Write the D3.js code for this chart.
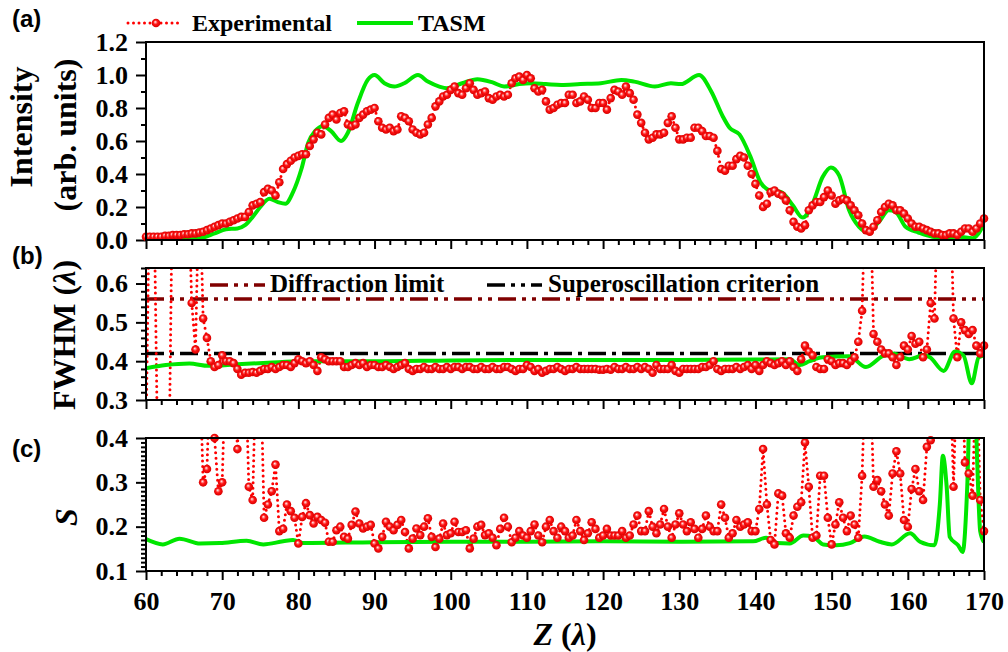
<!DOCTYPE html>
<html>
<head>
<meta charset="utf-8">
<script src="https://cdn.jsdelivr.net/npm/d3@7"></script>
<style>
  body { margin: 0; background: #fff; }
  svg { display: block; }
</style>
</head>
<body>
<svg id="chart" width="1008" height="652"></svg>
<script>
// ---------- data ----------
// Experimental samples: propagation distance Z from 60 λ to 170 λ in 0.5 λ steps
const zStart = 60;
const zStep = 0.5;

const expIntensity = [
  0.02,0.02,0.02,0.02,0.02,0.025,0.025,0.03,0.03,0.03,
  0.035,0.035,0.04,0.04,0.045,0.05,0.06,0.07,0.08,0.09,
  0.10,0.10,0.11,0.12,0.13,0.14,0.14,0.17,0.21,0.22,
  0.23,0.29,0.31,0.30,0.27,0.35,0.43,0.46,0.48,0.50,
  0.51,0.52,0.52,0.57,0.61,0.65,0.64,0.70,0.74,0.76,
  0.73,0.77,0.78,0.70,0.69,0.70,0.74,0.76,0.78,0.79,
  0.80,0.72,0.68,0.67,0.68,0.66,0.67,0.75,0.74,0.72,
  0.67,0.65,0.64,0.65,0.70,0.74,0.81,0.84,0.87,0.88,
  0.91,0.93,0.89,0.88,0.92,0.95,0.91,0.88,0.89,0.90,
  0.86,0.85,0.87,0.88,0.87,0.88,0.95,0.98,0.99,0.97,
  1.00,0.98,0.92,0.90,0.91,0.84,0.79,0.80,0.82,0.83,
  0.83,0.88,0.88,0.83,0.84,0.87,0.85,0.80,0.80,0.83,
  0.83,0.79,0.86,0.91,0.90,0.88,0.93,0.89,0.85,0.76,
  0.71,0.65,0.61,0.62,0.64,0.64,0.65,0.71,0.75,0.68,
  0.61,0.61,0.62,0.62,0.68,0.68,0.66,0.63,0.63,0.62,
  0.54,0.43,0.42,0.45,0.45,0.49,0.51,0.50,0.45,0.40,
  0.34,0.27,0.20,0.22,0.29,0.30,0.28,0.27,0.24,0.18,
  0.11,0.08,0.07,0.09,0.18,0.21,0.23,0.23,0.26,0.30,
  0.27,0.22,0.24,0.25,0.24,0.21,0.18,0.15,0.10,0.06,
  0.05,0.08,0.12,0.17,0.20,0.22,0.21,0.18,0.18,0.16,
  0.13,0.10,0.08,0.08,0.07,0.06,0.05,0.04,0.04,0.03,
  0.03,0.04,0.04,0.03,0.05,0.07,0.07,0.05,0.07,0.10,
  0.13
];

const expFwhm = [
  0.20,0.90,0.90,0.20,0.10,0.10,0.10,0.90,0.90,0.90,
  0.90,0.90,0.55,0.43,0.90,0.51,0.46,0.40,0.385,0.39,
  0.415,0.40,0.40,0.395,0.38,0.365,0.37,0.37,0.372,0.37,
  0.375,0.38,0.38,0.385,0.38,0.385,0.39,0.39,0.385,0.395,
  0.405,0.40,0.395,0.40,0.39,0.375,0.41,0.405,0.40,0.40,
  0.40,0.40,0.385,0.385,0.39,0.395,0.39,0.395,0.385,0.39,
  0.39,0.385,0.385,0.39,0.385,0.38,0.385,0.39,0.395,0.38,
  0.375,0.38,0.38,0.385,0.38,0.38,0.385,0.38,0.38,0.385,
  0.38,0.385,0.385,0.38,0.385,0.385,0.38,0.38,0.385,0.38,
  0.38,0.385,0.38,0.38,0.385,0.385,0.38,0.375,0.38,0.38,
  0.39,0.385,0.375,0.38,0.37,0.375,0.38,0.38,0.385,0.38,
  0.375,0.38,0.38,0.385,0.38,0.38,0.38,0.38,0.38,0.378,
  0.378,0.38,0.378,0.385,0.38,0.38,0.385,0.38,0.38,0.385,
  0.38,0.385,0.38,0.37,0.39,0.38,0.38,0.38,0.39,0.375,
  0.37,0.38,0.38,0.38,0.38,0.38,0.385,0.385,0.39,0.40,
  0.38,0.375,0.38,0.38,0.38,0.385,0.38,0.385,0.39,0.38,
  0.39,0.375,0.39,0.40,0.395,0.39,0.395,0.40,0.39,0.40,
  0.385,0.375,0.405,0.44,0.425,0.415,0.385,0.38,0.38,0.405,
  0.40,0.39,0.395,0.395,0.39,0.40,0.41,0.45,0.53,0.90,
  0.90,0.47,0.45,0.43,0.42,0.42,0.41,0.39,0.41,0.44,
  0.43,0.465,0.445,0.45,0.41,0.43,0.55,0.51,0.90,0.90,
  0.90,0.90,0.51,0.41,0.50,0.48,0.47,0.48,0.44,0.42,
  0.44
];

const expS = [
  0.60,0.60,0.60,0.60,0.60,0.60,0.60,0.60,0.60,0.60,
  0.60,0.60,0.60,0.60,0.60,0.30,0.33,0.60,0.40,0.28,
  0.30,0.60,0.60,0.60,0.375,0.60,0.60,0.29,0.26,0.60,
  0.60,0.22,0.25,0.28,0.34,0.19,0.195,0.25,0.235,0.22,
  0.162,0.222,0.253,0.226,0.207,0.222,0.215,0.209,0.166,0.166,
  0.192,0.200,0.177,0.173,0.204,0.234,0.207,0.196,0.200,0.204,
  0.162,0.151,0.177,0.211,0.200,0.192,0.204,0.215,0.188,0.151,
  0.173,0.196,0.181,0.200,0.219,0.177,0.154,0.173,0.207,0.181,
  0.185,0.211,0.188,0.188,0.192,0.151,0.173,0.200,0.204,0.181,
  0.185,0.175,0.158,0.195,0.22,0.20,0.165,0.175,0.19,0.18,
  0.175,0.19,0.205,0.18,0.165,0.20,0.215,0.19,0.175,0.20,
  0.19,0.175,0.18,0.215,0.19,0.17,0.185,0.21,0.195,0.175,
  0.18,0.195,0.18,0.18,0.18,0.19,0.175,0.18,0.205,0.225,
  0.19,0.19,0.235,0.20,0.185,0.205,0.24,0.20,0.175,0.205,
  0.23,0.205,0.19,0.21,0.195,0.175,0.195,0.225,0.20,0.19,
  0.19,0.25,0.22,0.175,0.185,0.215,0.20,0.205,0.21,0.19,
  0.19,0.24,0.375,0.25,0.17,0.16,0.275,0.27,0.185,0.175,
  0.225,0.245,0.255,0.39,0.29,0.175,0.18,0.315,0.315,0.22,
  0.16,0.205,0.255,0.22,0.19,0.225,0.205,0.175,0.315,0.60,
  0.60,0.29,0.305,0.28,0.25,0.225,0.32,0.37,0.32,0.215,
  0.20,0.285,0.33,0.28,0.26,0.38,0.395,0.60,0.60,0.60,
  0.60,0.60,0.29,0.60,0.60,0.345,0.32,0.27,0.60,0.26,
  0.19
];

// TASM simulation: [Z, value] pairs
const tasmIntensity = [
  [60,0.03],[61,0.02],[62,0.012],[64,0.005],[66,0.005],[67.5,0.015],[69,0.04],
  [70.5,0.065],[72,0.07],[73,0.09],[74,0.14],[75,0.2],[76.2,0.25],[77.3,0.23],
  [78.3,0.22],[79.3,0.29],[80.4,0.43],[81.3,0.59],[82.2,0.66],[83.2,0.69],
  [84.3,0.66],[85.6,0.60],[86.5,0.65],[87.8,0.83],[89.1,0.97],[90,1.0],
  [91.3,0.95],[92.6,0.93],[93.9,0.95],[95.7,1.0],[97,0.96],[98.5,0.93],
  [99.5,0.92],[101.5,0.95],[103.5,0.975],[105.5,0.955],[107,0.93],[109,0.945],
  [110.5,0.95],[112.5,0.945],[114.5,0.94],[117,0.945],[119.7,0.95],[122.4,0.97],
  [124.1,0.96],[126.8,0.93],[128.9,0.95],[130.2,0.945],[132.6,1.0],[134.2,0.9],
  [135.7,0.75],[136.6,0.68],[137.9,0.64],[139.3,0.51],[140.6,0.355],[141.9,0.30],
  [143.4,0.29],[144.9,0.21],[146.2,0.136],[147.5,0.22],[148.8,0.38],[149.9,0.44],
  [151,0.39],[152.3,0.18],[153.6,0.08],[154.7,0.05],[156.2,0.11],[157.5,0.18],
  [158.4,0.17],[159.7,0.08],[161.4,0.045],[163.2,0.02],[164.9,0.015],[166.7,0.02],
  [168.5,0.01],[169.3,0.04],[170,0.1]
];

const tasmFwhm = [
  [60,0.382],[62.6,0.39],[65.7,0.394],[68.2,0.388],[72,0.392],[76,0.396],
  [80.5,0.40],[90,0.40],[100,0.402],[110,0.403],[120,0.403],[130,0.403],
  [140,0.404],[144.5,0.405],[145.8,0.39],[147.1,0.40],[148.8,0.41],[152.3,0.413],
  [154.5,0.385],[156.7,0.413],[158,0.42],[160.2,0.405],[162,0.415],[162.9,0.41],
  [164.7,0.375],[166.2,0.425],[167.3,0.415],[168.4,0.343],[169.3,0.41],[170,0.415]
];

const tasmS = [
  [60,0.172],[62.2,0.16],[64.4,0.173],[67.1,0.162],[69.7,0.163],[73.2,0.168],
  [75.4,0.16],[78,0.167],[79.3,0.17],[80.6,0.163],[90,0.165],[100,0.166],
  [110,0.166],[120,0.167],[130,0.166],[139.7,0.167],[141.4,0.175],[142.8,0.163],
  [144.5,0.162],[146.3,0.18],[147.6,0.177],[148.9,0.16],[150.6,0.158],[152.4,0.163],
  [154.3,0.178],[156.3,0.166],[157.9,0.16],[160.3,0.185],[161.6,0.166],[163.5,0.158],
  [164.2,0.25],[164.6,0.36],[165.1,0.29],[165.5,0.177],[166.6,0.158],[167.2,0.143],
  [167.8,0.29],[168.2,0.5],[168.8,0.5],[169.1,0.35],[169.5,0.19],[170,0.165]
];

// Reference levels in panel (b)
const diffractionLimit = 0.56;
const superoscCriterion = 0.42;

// Axis ticks
const xTicks = [60,70,80,90,100,110,120,130,140,150,160,170];
const yTicksIntensity = [0.0,0.2,0.4,0.6,0.8,1.0,1.2];
const yTicksFwhm = [0.3,0.4,0.5,0.6];
const yTicksS = [0.1,0.2,0.3,0.4];

// ---------- drawing ----------
const svg = d3.select("#chart");
const SERIF = "'Liberation Serif','Times New Roman',serif";
const SANS = "'Liberation Sans',Arial,sans-serif";
const RED = "#ff0000";
const GREEN = "#00e600";

const defs = svg.append("defs");
const grad = defs.append("radialGradient").attr("id","sphere")
  .attr("cx",0.5).attr("cy",0.5).attr("r",0.5).attr("fx",0.4).attr("fy",0.36);
grad.append("stop").attr("offset",0).attr("stop-color","#ffffff");
grad.append("stop").attr("offset",0.22).attr("stop-color","#ff9090");
grad.append("stop").attr("offset",0.5).attr("stop-color","#ff1414");
grad.append("stop").attr("offset",1).attr("stop-color","#d80000");

const x = d3.scaleLinear().domain([60,170]).range([146,984]);

const zOf = i => zStart + i*zStep;
const toPts = arr => arr.map((v,i) => ({z: zOf(i), v}));

const panels = [
  {id:"a", domain:[0,1.2], range:[240,42], major:yTicksIntensity, minorStep:0.1,
   exp:expIntensity, tasm:tasmIntensity},
  {id:"b", domain:[0.3,0.64], range:[400,268], major:yTicksFwhm, minorStep:0.02,
   exp:expFwhm, tasm:tasmFwhm},
  {id:"c", domain:[0.1,0.4], range:[571,438], major:yTicksS, minorStep:0.01,
   exp:expS, tasm:tasmS}
];

panels.forEach((p, idx) => {
  const y = d3.scaleLinear().domain(p.domain).range(p.range);
  p.y = y;
  const [y0, y1] = p.range;
  const g = svg.append("g").attr("class","panel-"+p.id);

  defs.append("clipPath").attr("id","clip-"+p.id)
    .append("rect").attr("x",146).attr("y",y1).attr("width",838).attr("height",y0-y1);

  // x axis (major + minor), ticks pointing outward
  const isLast = idx === panels.length-1;
  const xMinor = d3.range(60,170.01,2).filter(v => v%10 !== 0);
  const xaMinor = g.append("g").attr("transform",`translate(0,${y0})`)
    .call(d3.axisBottom(x).tickValues(xMinor).tickSize(5).tickFormat(""));
  const xaMajor = g.append("g").attr("transform",`translate(0,${y0})`)
    .call(d3.axisBottom(x).tickValues(xTicks).tickSize(9).tickPadding(12)
      .tickFormat(isLast ? d3.format("d") : ""));

  // y axis (major + minor)
  const nMinor = Math.round((p.domain[1]-p.domain[0])/p.minorStep);
  const yMinor = d3.range(0,nMinor+1).map(k => +(p.domain[0]+k*p.minorStep).toFixed(4))
    .filter(v => !p.major.some(m => Math.abs(m-v) < 1e-6));
  const yaMinor = g.append("g").attr("transform","translate(146,0)")
    .call(d3.axisLeft(y).tickValues(yMinor).tickSize(5).tickFormat(""));
  const yaMajor = g.append("g").attr("transform","translate(146,0)")
    .call(d3.axisLeft(y).tickValues(p.major).tickSize(10).tickPadding(8).tickFormat(d3.format(".1f")));

  [xaMinor,xaMajor,yaMinor,yaMajor].forEach(a => {
    a.select(".domain").remove();
    a.selectAll("line").attr("stroke","#000").attr("stroke-width",2);
    a.selectAll("text").attr("font-family",SERIF).attr("font-weight","bold")
      .attr("font-size",26).attr("fill","#000");
  });

  const plot = g.append("g").attr("clip-path",`url(#clip-${p.id})`);

  // reference levels
  if (p.id === "b") {
    plot.append("line").attr("x1",146).attr("x2",984)
      .attr("y1",y(diffractionLimit)).attr("y2",y(diffractionLimit))
      .attr("stroke","#800000").attr("stroke-width",3.5)
      .attr("stroke-dasharray","18,6,4,6,4,6");
    plot.append("line").attr("x1",146).attr("x2",984)
      .attr("y1",y(superoscCriterion)).attr("y2",y(superoscCriterion))
      .attr("stroke","#000").attr("stroke-width",3.5)
      .attr("stroke-dasharray","18,6,4,6");
  }

  const pts = toPts(p.exp);
  // experimental: dotted connecting line
  plot.append("path").datum(pts)
    .attr("d", d3.line().x(d => x(d.z)).y(d => y(d.v)))
    .attr("fill","none").attr("stroke",RED).attr("stroke-width",3)
    .attr("stroke-linecap","round").attr("stroke-dasharray","0,5.5");

  // TASM curve
  plot.append("path").datum(p.tasm)
    .attr("d", d3.line().curve(d3.curveMonotoneX).x(d => x(d[0])).y(d => y(d[1])))
    .attr("fill","none").attr("stroke",GREEN).attr("stroke-width",4)
    .attr("stroke-linejoin","round");

  // experimental markers (only those inside the axis range)
  g.append("g").selectAll("circle")
    .data(pts.filter(d => d.v >= p.domain[0] && d.v <= p.domain[1]))
    .join("circle")
    .attr("cx", d => x(d.z)).attr("cy", d => y(d.v)).attr("r",4.3)
    .attr("fill","url(#sphere)");

  // frame
  g.append("rect").attr("x",146).attr("y",y1).attr("width",838).attr("height",y0-y1)
    .attr("fill","none").attr("stroke","#000").attr("stroke-width",2);
});

// ---------- legends ----------
const legA = svg.append("g");
legA.append("line").attr("x1",128).attr("x2",178).attr("y1",23).attr("y2",23)
  .attr("stroke",RED).attr("stroke-width",3).attr("stroke-linecap","round")
  .attr("stroke-dasharray","0,5.5");
legA.append("circle").attr("cx",156).attr("cy",23).attr("r",4.3).attr("fill","url(#sphere)");
legA.append("text").attr("x",192).attr("y",31).text("Experimental");
legA.append("line").attr("x1",357).attr("x2",413).attr("y1",23).attr("y2",23)
  .attr("stroke",GREEN).attr("stroke-width",4);
legA.append("text").attr("x",418).attr("y",31).text("TASM");
legA.selectAll("text").attr("font-family",SERIF).attr("font-weight","bold").attr("font-size",24);

const legB = svg.append("g");
legB.append("line").attr("x1",210).attr("x2",265).attr("y1",285).attr("y2",285)
  .attr("stroke","#800000").attr("stroke-width",3.5).attr("stroke-dasharray","18,6,4,6,4,6");
legB.append("text").attr("x",270).attr("y",292).text("Diffraction limit");
legB.append("line").attr("x1",487).attr("x2",542).attr("y1",285).attr("y2",285)
  .attr("stroke","#000").attr("stroke-width",3.5).attr("stroke-dasharray","18,6,4,6,4,6");
legB.append("text").attr("x",548).attr("y",292).text("Superoscillation criterion");
legB.selectAll("text").attr("font-family",SERIF).attr("font-weight","bold").attr("font-size",25);

// ---------- axis titles ----------
const titleFont = sel => sel.attr("font-family",SERIF).attr("font-weight","bold")
  .attr("font-size",32).attr("text-anchor","middle").attr("fill","#000");

svg.append("text").attr("transform","translate(32,127) rotate(-90)").text("Intensity").call(titleFont);
svg.append("text").attr("transform","translate(76,135) rotate(-90)").text("(arb. units)").call(titleFont);

const tF = svg.append("text").attr("transform","translate(75,335) rotate(-90)").call(titleFont);
tF.append("tspan").text("FWHM (");
tF.append("tspan").attr("font-style","italic").text("λ");
tF.append("tspan").text(")");

svg.append("text").attr("transform","translate(77,517) rotate(-90)")
  .attr("font-style","italic").text("S").call(titleFont);

const tZ = svg.append("text").attr("x",565).attr("y",645).call(titleFont);
tZ.append("tspan").attr("font-style","italic").text("Z");
tZ.append("tspan").text(" (");
tZ.append("tspan").attr("font-style","italic").text("λ");
tZ.append("tspan").text(")");

// ---------- panel labels ----------
[["(a)",27],["(b)",264],["(c)",457]].forEach(([t,yy]) => {
  svg.append("text").attr("x",12).attr("y",yy).text(t)
    .attr("font-family",SANS).attr("font-weight","bold").attr("font-size",24);
});
</script>
</body>
</html>
